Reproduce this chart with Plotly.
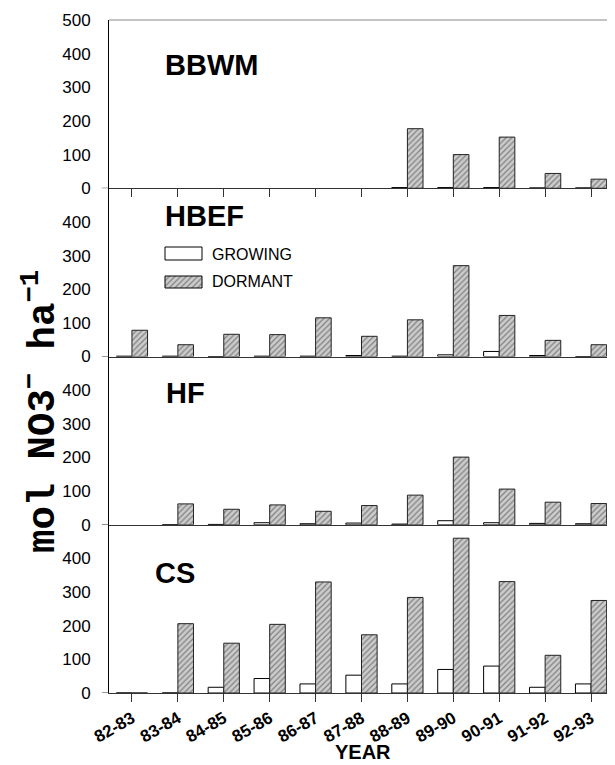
import plotly.graph_objects as go
from plotly.subplots import make_subplots

years = ["82-83", "83-84", "84-85", "85-86", "86-87", "87-88",
         "88-89", "89-90", "90-91", "91-92", "92-93"]
sites = ["BBWM", "HBEF", "HF", "CS"]

growing_bbwm = [None, None, None, None, None, None, 2, 2, 2, 1, 1]
dormant_bbwm = [None, None, None, None, None, None, 177, 100, 152, 44, 27]
growing_hbef = [1, 1, 0, 1, 1, 3, 1, 5, 15, 3, 0]
dormant_hbef = [78, 35, 66, 65, 115, 60, 109, 270, 122, 48, 35]
growing_hf = [None, 0, 1, 6, 3, 5, 2, 12, 6, 4, 3]
dormant_hf = [None, 62, 46, 59, 40, 57, 88, 201, 106, 67, 63]
growing_cs = [0, 0, 17, 43, 27, 53, 27, 70, 80, 17, 27]
dormant_cs = [0, 206, 148, 204, 330, 173, 284, 460, 331, 112, 275]

growing = [growing_bbwm, growing_hbef, growing_hf, growing_cs]
dormant = [dormant_bbwm, dormant_hbef, dormant_hf, dormant_cs]

OFF = 8  # default page body margin
W, H = 615 - OFF, 765 - OFF
L, R, T, B = 101, 1, 12, 72
PW, PH = W - L - R, H - T - B

def px_x(p):  # page pixel -> paper x
    return (p - OFF - L) / PW

def px_y(p):  # page pixel -> paper y
    return (H - B - (p - OFF)) / PH

fig = make_subplots(rows=4, cols=1, shared_xaxes=True, vertical_spacing=0)

hatch = dict(shape="/", fgcolor="#333333", bgcolor="#cccccc", size=4, solidity=0.3)
tick_font = dict(family="Liberation Sans, Arial", size=17, color="black")

for i in range(4):
    r = i + 1
    fig.add_trace(go.Bar(x=years, y=growing[i], name="GROWING",
                         marker=dict(color="white", line=dict(color="black", width=1)),
                         showlegend=False), row=r, col=1)
    fig.add_trace(go.Bar(x=years, y=dormant[i], name="DORMANT",
                         marker=dict(color="#cccccc", pattern=hatch,
                                     line=dict(color="#222", width=1)),
                         showlegend=False), row=r, col=1)
    top = r == 1
    fig.update_yaxes(range=[0, 500],
                     tickvals=[0, 100, 200, 300, 400, 500] if top else [0, 100, 200, 300, 400],
                     showgrid=False, zeroline=False, showline=True, linecolor="black",
                     linewidth=1, ticks="", tickfont=tick_font, ticklabelstandoff=14,
                     row=r, col=1)
    fig.update_xaxes(showgrid=False, zeroline=False, showline=True,
                     linecolor="#333", linewidth=1,
                     ticks="outside" if r in (1, 4) else "", ticklen=8, tickcolor="#333",
                     showticklabels=(r == 4), row=r, col=1)

fig.update_xaxes(tickangle=-30, tickfont=dict(family="Liberation Sans, Arial", size=17,
                                              color="black", weight="bold"), row=4, col=1)

# overlay axis in page-pixel units for the legend keys
fig.update_layout(
    xaxis5=dict(domain=[0, 1], range=[L + OFF, L + OFF + PW], visible=False, anchor="y5"),
    yaxis5=dict(domain=[0, 1], range=[H - B + OFF, T + OFF], visible=False, anchor="x5"),
)
leg_x0, leg_x1 = 165, 202
for (y0, y1, dormant_box) in [(247, 260, False), (276, 288, True)]:
    kw = dict(x=[leg_x0, leg_x1, leg_x1, leg_x0, leg_x0], y=[y0, y0, y1, y1, y0],
              mode="lines", fill="toself", line=dict(color="black", width=1),
              xaxis="x5", yaxis="y5", showlegend=False, hoverinfo="skip")
    if dormant_box:
        kw["fillcolor"] = "#cccccc"
        kw["fillpattern"] = hatch
    else:
        kw["fillcolor"] = "white"
    fig.add_trace(go.Scatter(**kw))

ann = []
lab_font = dict(family="Liberation Sans, Arial", size=29, color="black", weight="bold")
for name, lx, cy in [("BBWM", 163, 65), ("HBEF", 163, 216), ("HF", 164, 393), ("CS", 153, 573)]:
    ann.append(dict(text=name, x=px_x(lx), y=px_y(cy), xref="paper", yref="paper",
                    xanchor="left", yanchor="middle", showarrow=False, font=lab_font))
for name, cy in [("GROWING", 254), ("DORMANT", 282)]:
    ann.append(dict(text=name, x=px_x(210), y=px_y(cy), xref="paper", yref="paper",
                    xanchor="left", yanchor="middle", showarrow=False,
                    font=dict(family="Liberation Sans, Arial", size=16, color="black")))
ann.append(dict(text="YEAR", x=px_x(363), y=px_y(752), xref="paper", yref="paper",
                xanchor="center", yanchor="middle", showarrow=False,
                font=dict(family="Liberation Sans, Arial", size=20, color="black", weight="bold")))
ann.append(dict(text="mol NO3<sup>\u2212</sup> ha<sup>\u22121</sup>", x=px_x(41), y=px_y(412),
                xref="paper", yref="paper", xanchor="center", yanchor="middle",
                textangle=-90, showarrow=False,
                font=dict(family="Liberation Mono, Courier New, monospace", size=39,
                          color="black", weight="bold")))

shapes = [
    dict(type="line", xref="paper", yref="paper", x0=0, x1=1, y0=1, y1=1,
         line=dict(color="#888", width=1)),
    dict(type="line", xref="paper", yref="paper", x0=1, x1=1, y0=0.75, y1=1,
         line=dict(color="#888", width=1)),
]
for i in range(4):
    ya = "y" if i == 0 else f"y{i+1}"
    shapes.append(dict(type="line", xref="paper", yref=ya, x0=-0.014, x1=0, y0=0, y1=0,
                       line=dict(color="#333", width=1)))

fig.update_layout(
    width=W, height=H,
    margin=dict(l=L, r=R, t=T, b=B),
    paper_bgcolor="white", plot_bgcolor="rgba(0,0,0,0)",
    barmode="group", bargap=0.32, bargroupgap=0,
    annotations=ann, shapes=shapes,
    font=dict(family="Liberation Sans, Arial", color="black"),
)

fig.write_html("out.html")
